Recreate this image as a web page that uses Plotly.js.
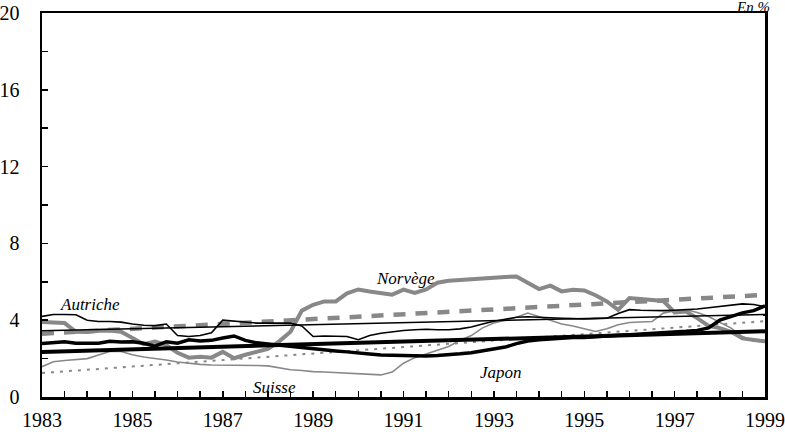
<!DOCTYPE html>
<html>
<head>
<meta charset="utf-8">
<script src="https://cdn.plot.ly/plotly-3.0.1.min.js"></script>
<style>html,body{margin:0;padding:0;background:#fff;}#chart{width:785px;height:438px;}</style>
</head>
<body>
<div id="chart"></div>
<script>
// Quarterly series, 1983Q1 .. 1999Q1 (65 points)
const startYear = 1983;
const autriche = [4.2,4.3,4.3,4.28,4.0,3.93,3.93,3.9,3.8,3.74,3.72,3.8,3.2,3.15,3.2,3.35,
  4.0,3.95,3.9,3.85,3.85,3.85,3.85,3.7,3.15,3.18,3.18,3.15,2.98,3.2,3.32,3.4,
  3.46,3.5,3.53,3.5,3.5,3.55,3.65,3.8,3.95,4.05,4.15,4.18,4.15,4.1,4.1,4.08,
  4.06,4.08,4.1,4.35,4.55,4.52,4.5,4.5,4.52,4.55,4.58,4.65,4.72,4.8,4.85,4.82,4.7];
const norvege = [3.9,3.9,3.85,3.4,3.38,3.45,3.46,3.4,3.1,2.75,2.89,2.7,2.3,2.05,2.1,2.05,
  2.35,2.02,2.2,2.33,2.5,2.9,3.4,4.5,4.8,4.98,4.98,5.4,5.6,5.5,5.4,5.33,
  5.59,5.42,5.6,5.95,6.05,6.1,6.12,6.15,6.2,6.25,6.28,5.94,5.62,5.8,5.5,5.59,
  5.55,5.3,4.98,4.54,5.15,5.1,5.07,5.0,4.4,4.45,4.11,3.7,3.59,3.4,3.05,2.95,2.9];
const japon = [2.78,2.83,2.88,2.8,2.78,2.8,2.9,2.86,2.88,2.8,2.65,2.88,2.8,2.98,2.92,2.95,
  3.07,3.18,2.95,2.82,2.76,2.7,2.63,2.55,2.48,2.43,2.4,2.35,2.28,2.24,2.19,2.17,
  2.16,2.15,2.13,2.16,2.19,2.25,2.31,2.4,2.47,2.6,2.78,2.92,2.98,3.02,3.07,3.1,
  3.1,3.15,3.18,3.21,3.24,3.27,3.3,3.34,3.38,3.42,3.47,3.6,4.0,4.2,4.38,4.5,4.75];
const suisse = [1.58,1.84,1.9,1.95,2.0,2.19,2.37,2.37,2.2,2.08,2.02,1.93,1.82,1.75,1.7,1.67,
  1.67,1.66,1.65,1.64,1.62,1.5,1.42,1.38,1.32,1.3,1.27,1.24,1.2,1.17,1.15,1.3,
  1.76,2.05,2.25,2.45,2.63,2.95,3.2,3.6,3.85,4.0,4.15,4.37,4.2,4.0,3.8,3.7,
  3.55,3.41,3.55,3.76,3.88,3.9,3.93,4.37,4.5,4.55,4.4,4.19,3.9,3.59,3.15,2.9,2.88];
// Linear trends (start 1983, end 1999)
const trendYears = [1983, 1999];
const autricheTrend = [3.45, 4.3];
const norvegeTrend = [3.3, 5.32];
const japonTrend = [2.35, 3.42];
const suisseTrend = [1.25, 3.95];
const xTickVals = [1983,1985,1987,1989,1991,1993,1995,1997,1999];
const yTickVals = [0,4,8,12,16,20];

const quarters = autriche.map((_, i) => startYear + i / 4);
const gray = '#888888';
const serif = 'Liberation Serif, Times New Roman, serif';

const traces = [
  {x: trendYears, y: suisseTrend, mode: 'lines', line: {color: gray, width: 2, dash: '3px,6px'}},
  {x: quarters, y: suisse, mode: 'lines', line: {color: gray, width: 1.6}},
  {x: trendYears, y: norvegeTrend, mode: 'lines', line: {color: gray, width: 4.5, dash: '12px,10px'}},
  {x: quarters, y: norvege, mode: 'lines', line: {color: gray, width: 4}},
  {x: trendYears, y: autricheTrend, mode: 'lines', line: {color: '#000', width: 1.6}},
  {x: quarters, y: autriche, mode: 'lines', line: {color: '#000', width: 1.6}},
  {x: trendYears, y: japonTrend, mode: 'lines', line: {color: '#000', width: 4}},
  {x: quarters, y: japon, mode: 'lines', line: {color: '#000', width: 3.5}}
];

const lab = (t, x, y) => ({text: '<i>' + t + '</i>', x: x, y: y, xref: 'x', yref: 'y', showarrow: false,
  font: {family: serif, size: 17, color: '#000'}});

const layout = {
  width: 785, height: 438,
  margin: {l: 42, r: 20, t: 13, b: 41},
  showlegend: false,
  paper_bgcolor: '#fff', plot_bgcolor: '#fff',
  font: {family: serif, color: '#000', size: 20},
  xaxis: {
    range: [1983, 1999], tickmode: 'array', tickvals: xTickVals, ticktext: xTickVals.map(String),
    ticks: 'inside', ticklen: 6, tickwidth: 1.5, tickcolor: '#000',
    minor: {dtick: 0.5, tick0: 1983, ticks: 'inside', ticklen: 6, tickwidth: 1.5, tickcolor: '#000', showgrid: false},
    showgrid: false, zeroline: false, showline: true, linecolor: '#000', linewidth: 2.5, mirror: true,
    ticklabelstandoff: 3, fixedrange: true
  },
  yaxis: {
    range: [0, 20], tickmode: 'array', tickvals: yTickVals, ticktext: yTickVals.map(String),
    ticks: 'inside', ticklen: 6, tickwidth: 1.5, tickcolor: '#000',
    minor: {dtick: 2, tick0: 0, ticks: 'inside', ticklen: 6, tickwidth: 1.5, tickcolor: '#000', showgrid: false},
    showgrid: false, zeroline: false, showline: true, linecolor: '#000', linewidth: 2.5, mirror: true,
    ticklabelstandoff: 16, fixedrange: true
  },
  annotations: [
    lab('Autriche', 1984.06, 4.83),
    lab('Norvège', 1991.05, 6.18),
    lab('Suisse', 1988.15, 0.52),
    lab('Japon', 1993.15, 1.3),
    {text: '<i>En %</i>', xref: 'paper', yref: 'paper', x: 1.01, y: 1.0, xanchor: 'right', yanchor: 'bottom',
     yshift: -4, showarrow: false, font: {family: serif, size: 15, color: '#000'}}
  ]
};

Plotly.newPlot('chart', traces, layout, {staticPlot: true, displayModeBar: false});
</script>
</body>
</html>
